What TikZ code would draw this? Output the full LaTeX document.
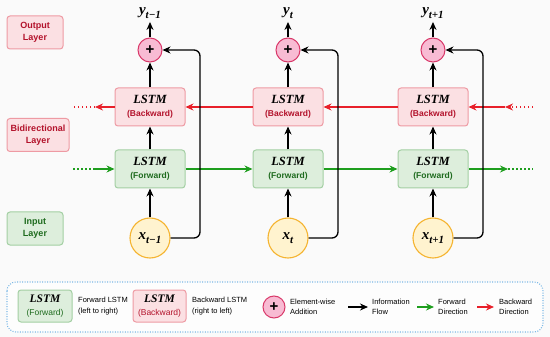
\documentclass[tikz,border=0pt]{standalone}
\usepackage{fontspec}
\setmainfont{Liberation Serif}
\setsansfont{Liberation Sans}
\usetikzlibrary{arrows.meta}
\definecolor{bgc}{HTML}{FAFAFA}
\definecolor{pinkfill}{HTML}{FBE0E3}
\definecolor{pinkdraw}{HTML}{EE9AA3}
\definecolor{redtext}{HTML}{B3122B}
\definecolor{greenfill}{HTML}{DDEEDC}
\definecolor{greendraw}{HTML}{A3CFA3}
\definecolor{greentext}{HTML}{1E6B1E}
\definecolor{plusfill}{HTML}{F8BBD3}
\definecolor{plusdraw}{HTML}{D9396A}
\definecolor{xfill}{HTML}{FFF3CF}
\definecolor{xdraw}{HTML}{F5B430}
\definecolor{redarrow}{HTML}{E8202A}
\definecolor{greenarrow}{HTML}{1E9E1E}
\definecolor{legdraw}{HTML}{7DB9E6}
\tikzset{
  bwbox/.style={draw=pinkdraw, fill=pinkfill, rounded corners=3pt, line width=1pt, minimum width=70pt, minimum height=38pt, inner sep=0pt, align=center},
  fwbox/.style={draw=greendraw, fill=greenfill, rounded corners=3pt, line width=1pt, minimum width=70pt, minimum height=38pt, inner sep=0pt, align=center},
  plusc/.style={circle, draw=plusdraw, fill=plusfill, line width=1pt, minimum size=24pt, inner sep=0pt, font=\sffamily\bfseries\fontsize{15}{15}\selectfont},
  xc/.style={circle, draw=xdraw, fill=xfill, line width=1.1pt, minimum size=40pt, inner sep=0pt, font=\bfseries\itshape\fontsize{15}{15}\selectfont},
  ylab/.style={font=\bfseries\itshape\fontsize{15}{15}\selectfont, inner sep=0pt},
  laybox/.style={rounded corners=3pt, line width=1pt, minimum height=33pt, inner sep=0pt, align=center, font=\sffamily\bfseries\fontsize{9}{12}\selectfont},
  flow/.style={-{Stealth[length=8pt,width=7pt]}, line width=1.3pt, black},
  bwarr/.style={-{Stealth[length=8pt,width=7pt]}, line width=1.3pt, redarrow},
  fwarr/.style={-{Stealth[length=8pt,width=7pt]}, line width=1.3pt, greenarrow},
  dotl/.style={line width=1.3pt, dash pattern=on 1.5pt off 2.5pt},
  legtxt/.style={anchor=west, align=left, inner sep=0pt, font=\sffamily\fontsize{7.5}{10.5}\selectfont},
}
\newcommand{\lstmtxt}[2]{{\bfseries\itshape\fontsize{12.5}{14}\selectfont LSTM}\\[1pt]{\sffamily\bfseries\fontsize{8.5}{10}\selectfont\color{#1}(#2)}}
\newcommand{\lstmleg}[2]{{\bfseries\itshape\fontsize{11.5}{13}\selectfont LSTM}\\[1pt]{\sffamily\fontsize{8.5}{10}\selectfont\color{#1}(#2)}}
\newcommand{\vsub}[2]{#1\raisebox{-0.3em}{\fontsize{11}{11}\selectfont #2}}
\begin{document}
\begin{tikzpicture}[x=1pt,y=-1pt]
\useasboundingbox (0,0) rectangle (550,337);
\fill[bgc] (0,0) rectangle (550,337);

% layer labels
\node[laybox, draw=pinkdraw, fill=pinkfill, text=redtext, minimum width=56pt] (outL) at (35,32.5) {Output\\Layer};
\node[laybox, draw=pinkdraw, fill=pinkfill, text=redtext, minimum width=62pt] (biL) at (38,135) {Bidirectional\\Layer};
\node[laybox, draw=greendraw, fill=greenfill, text=greentext, minimum width=56pt] (inL) at (35,228.5) {Input\\Layer};

% columns
\foreach \i/\cx/\sub in {1/150/{t−1}, 2/288/{t}, 3/433/{t+1}} {
  \node[ylab] (y\i) at (\cx,13) {\vsub{y}{\sub}};
  \node[plusc] (p\i) at (\cx,50) {+};
  \node[bwbox] (b\i) at (\cx,107) {\lstmtxt{redtext}{Backward}};
  \node[fwbox] (f\i) at (\cx,169) {\lstmtxt{greentext}{Forward}};
  \node[xc] (x\i) at (\cx,238) {\vsub{x}{\sub}};
}

% horizontal red (backward) arrows
\coordinate (bl1) at (95,107);
\coordinate (bl0) at (73,107);
\draw[bwarr] (b1.west) -- (bl1);
\draw[redarrow, dotl] (bl1) -- (bl0);
\draw[bwarr] (b2.west) -- (b1.east);
\draw[bwarr] (b3.west) -- (b2.east);
\coordinate (br1) at (505,107);
\coordinate (br0) at (533,107);
\draw[bwarr] (br1) -- (b3.east);
\draw[redarrow, dotl, -{Stealth[length=8pt,width=7pt]}] (br0) -- (br1);

% horizontal green (forward) arrows
\coordinate (fl0) at (73,169);
\coordinate (fl1) at (93,169);
\draw[greenarrow, dotl] (fl0) -- (fl1);
\draw[fwarr] (fl1) -- (f1.west);
\draw[fwarr] (f1.east) -- (f2.west);
\draw[fwarr] (f2.east) -- (f3.west);
\coordinate (fr1) at (508,169);
\coordinate (fr0) at (533,169);
\draw[fwarr] (f3.east) -- (fr1);
\draw[greenarrow, dotl] (fr1) -- (fr0);

% vertical flow and skip connections
\foreach \i in {1,2,3} {
  \draw[flow] (x\i.north) -- (f\i.south);
  \draw[flow] (f\i.north) -- (b\i.south);
  \draw[flow] (b\i.north) -- (p\i.south);
  \draw[flow] (p\i.north) -- ([yshift=-3pt]y\i.south);
  \draw[flow, rounded corners=6pt] (x\i.east) -| ([xshift=50pt]p\i.center) -- (p\i.east);
}

% legend
\draw[legdraw, line width=1.1pt, dash pattern=on 1pt off 1.5pt, rounded corners=9pt, fill=white!60!bgc] (7,282) rectangle (543,332);
\node[fwbox, minimum width=54pt, minimum height=32pt] (lf) at (45,306) {\lstmleg{greentext}{Forward}};
\node[legtxt] (lft) at (78,306) {Forward LSTM\\(left to right)};
\node[bwbox, minimum width=53pt, minimum height=32pt] (lb) at (159.5,306) {\lstmleg{redtext}{Backward}};
\node[legtxt] (lbt) at (192,306) {Backward LSTM\\(right to left)};
\node[plusc, minimum size=22pt] (lp) at (274,307) {+};
\node[legtxt] (lpt) at (290,307) {Element-wise\\Addition};
\coordinate (la0) at (348,307);
\node[legtxt] (lat) at (372,307) {Information\\Flow};
\draw[flow] (la0) -- ([xshift=-4pt]lat.west);
\coordinate (lg0) at (417,307);
\node[legtxt] (lgt) at (438,307) {Forward\\Direction};
\draw[fwarr] (lg0) -- ([xshift=-4pt]lgt.west);
\coordinate (lr0) at (477,307);
\node[legtxt] (lrt) at (499,307) {Backward\\Direction};
\draw[bwarr] (lr0) -- ([xshift=-5pt]lrt.west);
\end{tikzpicture}
\end{document}
